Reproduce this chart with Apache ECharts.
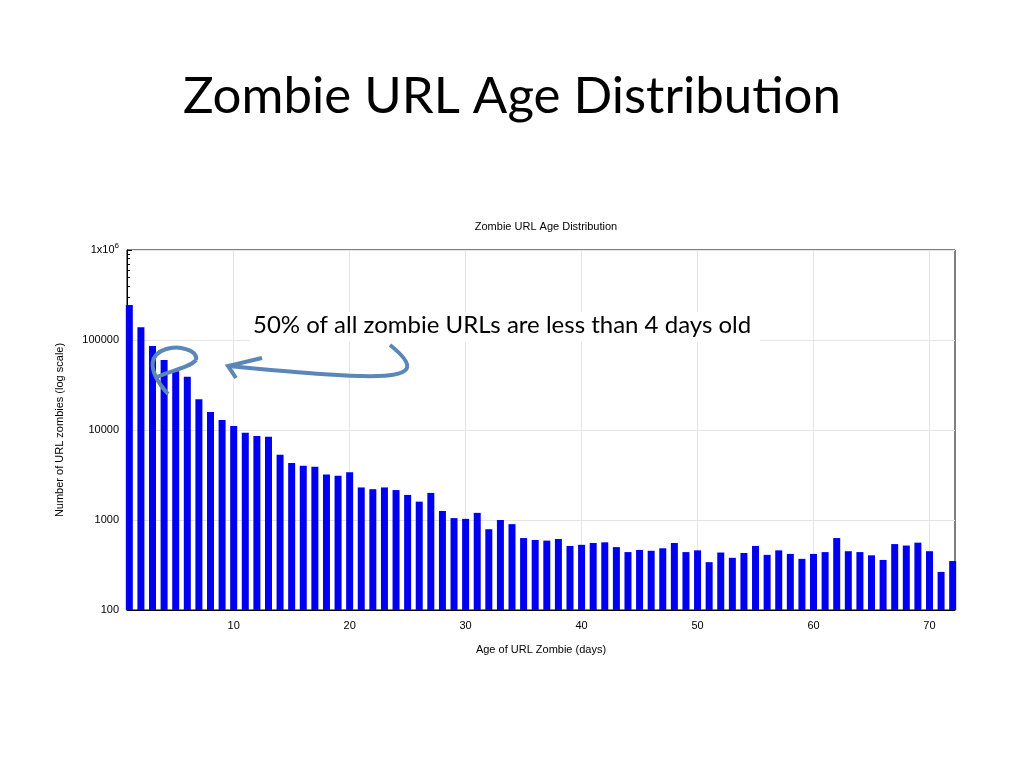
<!DOCTYPE html>
<html><head><meta charset="utf-8">
<script src="https://cdn.jsdelivr.net/npm/echarts@6/dist/echarts.min.js"></script>
<style>html,body{margin:0;padding:0;background:#fff}#c{width:1024px;height:768px}</style>
</head><body><div id="c"></div>
<script>
const days = Array.from({length:72},(_,i)=>i+1);
const counts = [245000,139000,86000,60000,45000,39000,22000,15800,12900,11100,
9300,8600,8400,5300,4300,4000,3900,3200,3100,3400,
2300,2200,2300,2150,1900,1600,2000,1260,1050,1030,
1200,790,1000,900,630,600,590,615,515,530,
555,565,500,440,465,455,485,555,440,460,
340,435,380,430,515,410,460,420,370,420,
440,630,450,440,405,360,540,520,560,450,
265,350];
const xTicks = [10,20,30,40,50,60,70];

const chart = echarts.init(document.getElementById('c'));
chart.setOption({
  animation:false,
  title:[
    {text:'Zombie URL Age Distribution',left:'center',top:66,textStyle:{fontFamily:'Lato',fontSize:51,fontWeight:'normal',color:'#000'}},
    {text:'Zombie URL Age Distribution',left:541,textAlign:'center',top:216,textStyle:{fontFamily:'Liberation Sans',fontSize:11,fontWeight:'normal',color:'#000'}}
  ],
  grid:{left:127,right:69,top:250,bottom:158,show:true,borderColor:'#000',borderWidth:1},
  xAxis:{type:'value',min:0.8,max:72.2,name:'Age of URL Zombie (days)',nameLocation:'middle',nameGap:34,
    nameTextStyle:{fontFamily:'Liberation Sans',fontSize:11,color:'#000'},
    axisLine:{lineStyle:{color:'#000'}},
    axisTick:{customValues:xTicks,inside:true,length:5,lineStyle:{color:'#000'}},
    axisLabel:{customValues:xTicks,fontFamily:'Liberation Sans',fontSize:11,color:'#000',margin:10},
    splitLine:{show:false}},
  yAxis:{type:'log',min:100,max:1000000,logBase:10,name:'Number of URL zombies (log scale)',nameLocation:'middle',nameGap:62,
    nameTextStyle:{fontFamily:'Liberation Sans',fontSize:11,color:'#000'},
    axisLine:{lineStyle:{color:'#000'}},
    axisTick:{inside:true,length:5,lineStyle:{color:'#000'}},
    minorTick:{show:true,splitNumber:9,length:3,lineStyle:{color:'#000'}},
    splitLine:{show:true,lineStyle:{color:'#e4e4e4'}},
    axisLabel:{fontFamily:'Liberation Sans',fontSize:11,color:'#000',
      formatter:v=>v>=999999?'{a|1x10}{s|6}':String(Math.round(v)),
      rich:{a:{fontFamily:'Liberation Sans',fontSize:11,color:'#000'},s:{fontFamily:'Liberation Sans',fontSize:8,color:'#000',verticalAlign:'top',padding:[0,0,8,0]}}}},
  series:[
    {type:'line',data:[],z:0,silent:true,
      markLine:{silent:true,symbol:'none',label:{show:false},lineStyle:{color:'#e4e4e4',type:'solid',width:1},z:0,
        data:xTicks.map(v=>({xAxis:v}))}},
    {type:'bar',data:days.map((d,i)=>[d,counts[i]]),barWidth:7,itemStyle:{color:'#0000f0'},z:5}
  ],
  graphic:[
    {type:'rect',shape:{x:250,y:312,width:510,height:30},style:{fill:'#fff'},z:8},
    {type:'text',left:253,top:313,z:9,style:{text:'50% of all zombie URLs are less than 4 days old',fontFamily:'Lato',fontSize:24,fill:'#000'}},
    {type:'bezierCurve',shape:{x1:390,y1:345,cpx1:440,cpy1:385,cpx2:380,cpy2:380,x2:228,y2:366},style:{stroke:'#5b87b8',lineWidth:4,fill:null},z:10},
    {type:'polyline',shape:{points:[[262,358],[228,366],[236,378]]},style:{stroke:'#5b87b8',lineWidth:4,fill:null},z:10},
    {type:'bezierCurve',shape:{x1:168,y1:394,cpx1:120,cpy1:340,cpx2:200,cpy2:340,x2:196,y2:360},style:{stroke:'#5b87b8',lineWidth:4,fill:null},z:10},
    {type:'bezierCurve',shape:{x1:196,y1:360,cpx1:190,cpy1:368,cpx2:165,cpy2:372,x2:155,y2:378},style:{stroke:'#5b87b8',lineWidth:4,fill:null},z:10}
  ]
});
</script></body></html>
